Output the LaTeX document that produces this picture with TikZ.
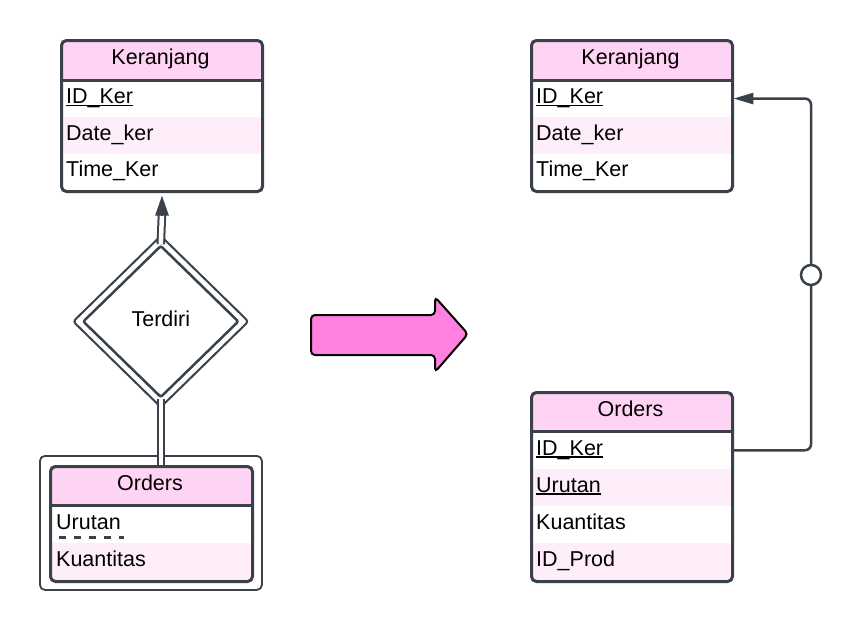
\documentclass[tikz,border=0pt]{standalone}
\usepackage{fontspec}
\setmainfont{Liberation Sans}
\usetikzlibrary{shapes.geometric,arrows.meta,calc}
\definecolor{hdr}{RGB}{255,211,243}
\definecolor{rowp}{RGB}{255,238,250}
\definecolor{linec}{RGB}{58,65,74}
\definecolor{bigpink}{RGB}{255,128,222}
\newcommand{\myul}[1]{\setbox0\hbox{#1}\rlap{\rule[-2.6pt]{\wd0}{1.5pt}}\box0}
\begin{document}
\begin{tikzpicture}[x=1pt,y=-1pt,font=\fontsize{21.5}{24}\selectfont,
  frame/.style={draw=linec,line width=3pt,rounded corners=5pt,anchor=north west,inner sep=0pt},
  hdrtxt/.style={text height=15pt,text depth=5pt,inner sep=0pt},
  row/.style={anchor=north west,text width=189pt,inner xsep=6pt,inner ysep=0pt,align=left,text height=15pt,text depth=5pt},
  conn/.style={draw=linec,line width=2.5pt},
  dbl/.style={draw=linec,line width=2pt,double=white,double distance=4.5pt},
  sep/.style={draw=linec,line width=3pt}]
\useasboundingbox (0,0) rectangle (861,629);

% ---------- left Keranjang ----------
\begin{scope}
\clip[rounded corners=5pt] (60,39) rectangle (261,190);
\fill[white] (60,39) rectangle (261,190);
\fill[hdr] (60,39) rectangle (261,80);
\node[row,minimum height=36.7pt,fill=white] (lk1) at (60,80) {\myul{ID\_Ker}};
\node[row,minimum height=36.7pt,fill=rowp] (lk2) at (60,116.7) {Date\_ker};
\node[row,minimum height=36.7pt,fill=white] (lk3) at (60,153.3) {Time\_Ker};
\end{scope}
\node[frame,minimum width=201pt,minimum height=151pt] (lk) at (60,39) {};
\node[hdrtxt] (lkh) at (160.5,59.5) {Keranjang};
\draw[sep] (lk1.north west) -- (lk1.north east);

% ---------- diamond ----------
\node[diamond,draw=linec,line width=2pt,minimum width=176pt,minimum height=172pt,inner sep=0pt,rounded corners=3pt,fill=white] (diao) at (160.8,321.5) {};
\node[diamond,draw=linec,line width=2.5pt,minimum width=156pt,minimum height=152pt,inner sep=0pt,rounded corners=2pt,text height=15pt,text depth=5pt] (dia) at (160.8,321.5) {Terdiri};

% ---------- left Orders (weak) ----------
\node[frame,draw=linec,line width=1.8pt,minimum width=222pt,minimum height=134pt] (low) at (39,455) {};
\begin{scope}
\clip[rounded corners=5pt] (49,465) rectangle (251,580);
\fill[white] (49,465) rectangle (251,580);
\fill[hdr] (49,465) rectangle (251,505.5);
\node[row,minimum height=37.25pt,fill=white,text width=188pt,inner xsep=7pt] (lo1) at (49,505.5) {Urutan};
\node[row,minimum height=37.25pt,fill=rowp,text width=188pt,inner xsep=7pt] (lo2) at (49,542.75) {Kuantitas};
\end{scope}
\node[frame,minimum width=202pt,minimum height=115pt] (lo) at (49,465) {};
\node[hdrtxt] (loh) at (150,485.3) {Orders};
\draw[sep] (lo1.north west) -- (lo1.north east);
\draw[linec,line width=3pt,dash pattern=on 7pt off 8pt] ($(lo1.west)+(10,13)$) -- ++(65,0);

% ---------- double connectors ----------
\draw[dbl] (dia.north) -- ($(lk.south)+(0,20)$);
\draw[conn,-{Triangle[length=20pt,width=13pt]}] ($(lk.south)+(0,22)$) -- ($(lk.south)+(0,2.5)$);
\draw[dbl] (dia.south) -- (dia.south |- lo.north);

% ---------- big arrow ----------
\draw[black,line width=2pt,fill=bigpink,rounded corners=4pt]
  (311,315) -- (435,315) -- (435,297) -- (468,334) -- (435,372) -- (435,355) -- (311,355) -- cycle;

% ---------- right Keranjang ----------
\begin{scope}
\clip[rounded corners=5pt] (530,39) rectangle (731,190);
\fill[white] (530,39) rectangle (731,190);
\fill[hdr] (530,39) rectangle (731,80);
\node[row,minimum height=36.7pt,fill=white] (rk1) at (530,80) {\myul{ID\_Ker}};
\node[row,minimum height=36.7pt,fill=rowp] (rk2) at (530,116.7) {Date\_ker};
\node[row,minimum height=36.7pt,fill=white] (rk3) at (530,153.3) {Time\_Ker};
\end{scope}
\node[frame,minimum width=201pt,minimum height=151pt] (rk) at (530,39) {};
\node[hdrtxt] (rkh) at (630.5,59.5) {Keranjang};
\draw[sep] (rk1.north west) -- (rk1.north east);

% ---------- right Orders ----------
\begin{scope}
\clip[rounded corners=5pt] (530,391) rectangle (731,580);
\fill[white] (530,391) rectangle (731,580);
\fill[hdr] (530,391) rectangle (731,431.5);
\node[row,minimum height=37.1pt,fill=white] (ro1) at (530,431.5) {\myul{ID\_Ker}};
\node[row,minimum height=37.1pt,fill=rowp] (ro2) at (530,468.6) {\myul{Urutan}};
\node[row,minimum height=37.1pt,fill=white] (ro3) at (530,505.7) {Kuantitas};
\node[row,minimum height=37.1pt,fill=rowp] (ro4) at (530,542.8) {ID\_Prod};
\end{scope}
\node[frame,minimum width=201pt,minimum height=189pt] (ro) at (530,391) {};
\node[hdrtxt] (roh) at (630.5,411.2) {Orders};
\draw[sep] (ro1.north west) -- (ro1.north east);

% ---------- optional relationship connector ----------
\coordinate (cc) at (811,275);
\draw[conn,rounded corners=6pt,-{Triangle[length=20pt,width=11pt]}]
  ($(ro1.east)+(1.5,0)$) -| (cc) |- ($(rk1.east)+(2,0)$);
\node[circle,draw=linec,fill=white,line width=2.5pt,minimum size=20pt,inner sep=0pt] (opt) at (cc) {};
\end{tikzpicture}
\end{document}
